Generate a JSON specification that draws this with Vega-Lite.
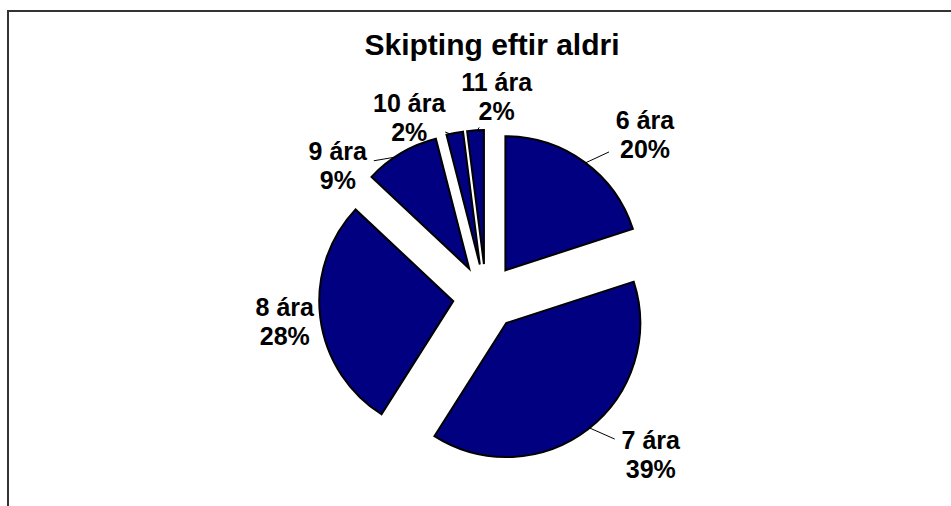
{
  "$schema": "https://vega.github.io/schema/vega-lite/v6.json",
  "width": 946,
  "height": 498,
  "autosize": "none",
  "padding": {"left": 8, "top": 11, "right": -3, "bottom": -3},
  "background": "#ffffff",
  "title": {
    "text": "Skipting eftir aldri",
    "font": "Liberation Sans",
    "fontSize": 30,
    "fontWeight": "bold",
    "color": "#000000",
    "anchor": "middle",
    "baseline": "alphabetic",
    "offset": -44,
    "dx": 11,
    "dy": 30
  },
  "config": {
    "view": {"stroke": "#333333", "strokeWidth": 2}
  },
  "data": {
    "values": [
      {"aldur": 6, "flokkur": "6 ára", "hlutfall": 20},
      {"aldur": 7, "flokkur": "7 ára", "hlutfall": 39},
      {"aldur": 8, "flokkur": "8 ára", "hlutfall": 28},
      {"aldur": 9, "flokkur": "9 ára", "hlutfall": 9},
      {"aldur": 10, "flokkur": "10 ára", "hlutfall": 2},
      {"aldur": 11, "flokkur": "11 ára", "hlutfall": 2}
    ]
  },
  "transform": [
    {"window": [{"op": "sum", "field": "hlutfall", "as": "cum"}], "sort": [{"field": "aldur"}], "frame": [null, 0]},
    {"joinaggregate": [{"op": "sum", "field": "hlutfall", "as": "total"}]},
    {"calculate": "(datum.cum - datum.hlutfall) / datum.total * 2 * PI", "as": "a0"},
    {"calculate": "datum.cum / datum.total * 2 * PI", "as": "a1"},
    {"calculate": "(datum.a0 + datum.a1) / 2", "as": "mid"},
    {"calculate": "33 * sin(datum.mid)", "as": "ex"},
    {"calculate": "-33 * cos(datum.mid)", "as": "ey"},
    {"calculate": "datum.mid < PI / 2 ? datum.mid + 2 * PI : datum.mid", "as": "u"},
    {"window": [{"op": "row_number", "as": "r"}], "sort": [{"field": "u", "order": "descending"}]},
    {"calculate": "datum.u + datum.r * 0.4", "as": "v"},
    {"window": [{"op": "min", "field": "v", "as": "vmin"}], "sort": [{"field": "u", "order": "descending"}], "frame": [null, 0]},
    {"calculate": "datum.vmin - datum.r * 0.4", "as": "la"},
    {"calculate": "25 + 228 * sin(datum.la)", "as": "lx"},
    {"calculate": "-200 * cos(datum.la)", "as": "ly"},
    {"calculate": "datum.ex + 131 * sin(datum.mid)", "as": "sx"},
    {"calculate": "datum.ey - 131 * cos(datum.mid)", "as": "sy"},
    {"calculate": "min(36 / max(abs(datum.sx - datum.lx), 0.001), 30 / max(abs(datum.sy - datum.ly), 0.001))", "as": "k"},
    {"calculate": "datum.k >= 1 ? datum.sx : datum.lx + datum.k * (datum.sx - datum.lx)", "as": "tx"},
    {"calculate": "datum.k >= 1 ? datum.sy : datum.ly + datum.k * (datum.sy - datum.ly)", "as": "ty"},
    {"calculate": "datum.flokkur + '\\n' + datum.hlutfall + '%'", "as": "merki"}
  ],
  "layer": [
    {
      "mark": {"type": "rule", "stroke": "#000000", "strokeWidth": 1},
      "encoding": {
        "x": {"field": "sx", "type": "quantitative", "scale": {"domain": [-478, 468], "range": [0, 946], "nice": false, "zero": false}, "axis": null},
        "y": {"field": "sy", "type": "quantitative", "scale": {"domain": [-286, 212], "range": [0, 498], "nice": false, "zero": false}, "axis": null},
        "x2": {"field": "tx"},
        "y2": {"field": "ty"}
      }
    },
    {
      "mark": {"type": "arc", "outerRadius": 134, "fill": "#000080", "stroke": "#000000", "strokeWidth": 2, "strokeJoin": "miter"},
      "encoding": {
        "theta": {"field": "a0", "type": "quantitative", "scale": null},
        "theta2": {"field": "a1"},
        "x": {"field": "ex", "type": "quantitative", "scale": {"domain": [-478, 468], "range": [0, 946], "nice": false, "zero": false}, "axis": null},
        "y": {"field": "ey", "type": "quantitative", "scale": {"domain": [-286, 212], "range": [0, 498], "nice": false, "zero": false}, "axis": null},
        "tooltip": [{"field": "flokkur", "title": "Aldur"}, {"field": "hlutfall", "title": "%"}]
      }
    },
    {
      "mark": {"type": "text", "font": "Liberation Sans", "fontWeight": "bold", "fontSize": 25, "lineHeight": 29, "lineBreak": "\n", "align": "center", "baseline": "middle", "dy": -14.5, "color": "#000000"},
      "encoding": {
        "x": {"field": "lx", "type": "quantitative", "scale": {"domain": [-478, 468], "range": [0, 946], "nice": false, "zero": false}, "axis": null},
        "y": {"field": "ly", "type": "quantitative", "scale": {"domain": [-286, 212], "range": [0, 498], "nice": false, "zero": false}, "axis": null},
        "text": {"field": "merki"}
      }
    }
  ]
}
